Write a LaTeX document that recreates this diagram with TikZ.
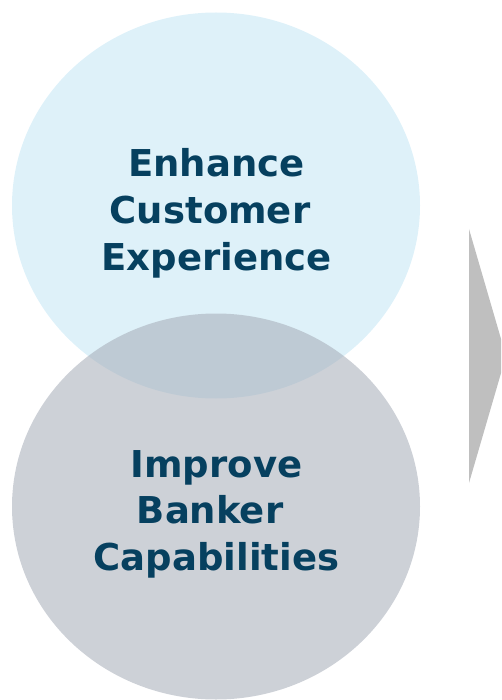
\documentclass[tikz,border=0pt]{standalone}
\usepackage{fontspec}
\usepackage{tikz}
\usetikzlibrary{shapes.geometric}
\setmainfont{DejaVu Sans}
\definecolor{skyblue}{HTML}{DEF1F9}
\definecolor{slategray}{HTML}{A6ADB8}
\definecolor{arrowgray}{HTML}{BFBFBF}
\definecolor{navytext}{HTML}{06405F}
\tikzstyle{bubble} = [ellipse, minimum width=408pt, minimum height=386pt,
    inner sep=0]
\tikzstyle{bubbletext} = [text=navytext, align=center, anchor=base,
    font=\bfseries\fontsize{37}{46.5}\selectfont]

\begin{document}
\begin{tikzpicture}[x=1pt, y=-1pt]
    \useasboundingbox (0,0) rectangle (501,700);
    \clip (0,0) rectangle (501,700);
    % the two goals, the lower one laid over the upper one
    \node [bubble, fill=skyblue] (customer) at (216,205.5) {};
    \node [bubble, fill=slategray, fill opacity=0.5625] (banker) at (216,506.5) {};
    % base anchor sits on the last line
    \node [bubbletext] (customertext) at (216.5,270)
        {Enhance\\\mbox{Customer\ }\\Experience};
    \node [bubbletext] (bankertext) at (216.5,570)
        {Improve\\\mbox{Banker\ }\\Capabilities};
    % arrow pointing right, cut by the page edge
    \fill [arrowgray] (469,229) -- (506,356) -- (469,483) -- cycle;
\end{tikzpicture}
\end{document}
